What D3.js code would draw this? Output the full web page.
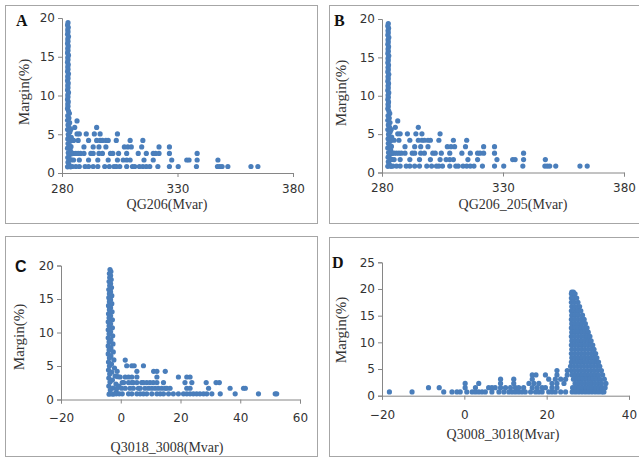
<!DOCTYPE html>
<html><head><meta charset="utf-8">
<script src="https://cdn.jsdelivr.net/npm/d3@7"></script>
<style>html,body{margin:0;padding:0;background:#fff;}svg{display:block;}</style>
</head><body>
<svg id="chart" width="639" height="459"></svg>
<script>
// ---------- DATA ----------
// Panels A and B: dense band near x≈282-284 plus scattered points (x in Mvar, y = Margin %)
const bandAB = [
[282.6,19.4],[282.4,19.1],[282.7,18.8],[282.5,18.5],[282.6,18.2],[282.4,17.9],[282.8,17.6],[282.5,17.3],
[282.6,17.0],[282.4,16.7],[282.7,16.4],[282.5,16.1],[282.6,15.8],[282.4,15.5],[282.8,15.2],[282.5,14.9],
[282.6,14.6],[282.4,14.3],[282.7,14.0],[282.5,13.7],[282.6,13.4],[282.4,13.1],[282.8,12.8],[282.5,12.5],
[282.6,12.2],[282.4,11.9],[282.7,11.6],[282.5,11.3],[282.6,11.0],[282.4,10.7],[282.8,10.4],[282.5,10.1],
[282.6,9.8],[282.4,9.5],[282.7,9.2],[282.5,8.9],[282.6,8.6],[282.4,8.3],[282.8,8.0],[283.2,7.7],
[282.5,7.4],[283.0,7.1],[282.4,6.8],[283.3,6.5],[282.6,6.2],[283.1,5.9],[282.4,5.6],[283.4,5.3],
[282.7,5.0],[283.0,4.7],[282.5,4.4],[283.5,4.1],[282.6,3.8],[283.2,3.5],[282.4,3.2],[283.6,2.9],
[282.7,2.6],[283.1,2.3],[282.5,2.0],[283.4,1.7],[282.6,1.4],[283.0,1.1],[282.4,0.8],[283.7,0.8],
[284.0,1.7],[284.2,2.5],[283.9,3.4],[284.0,4.6],[283.8,5.6]
];
const scatterAB = [
[284.5,0.84],[286,0.84],[287.5,0.84],[290,0.84],[291.5,0.84],[293.5,0.84],[295.5,0.84],[298.5,0.84],
[300.5,0.84],[302.5,0.84],[303.5,0.84],[305,0.84],[308,0.84],[310.5,0.84],[311.5,0.84],[313.5,0.84],
[315,0.84],[316.5,0.84],[318,0.84],[321.5,0.84],[326.5,0.84],[330.3,0.84],[338.2,0.84],[347.3,0.84],
[348.3,0.84],[349.3,0.84],[351.8,0.84],[361.8,0.84],[364.8,0.84],
[285,1.68],[287.5,1.68],[291.5,1.68],[295.5,1.68],[300,1.68],[304,1.68],[306.5,1.68],[308,1.68],
[309.5,1.68],[315.5,1.68],[319.5,1.68],[327.5,1.68],[334,1.68],[335,1.68],[338.5,1.68],[347.5,1.68],
[284,2.52],[285,2.52],[286,2.52],[287,2.52],[288,2.52],[289.5,2.52],[292.5,2.52],[293.5,2.52],
[296,2.52],[297.5,2.52],[301,2.52],[302,2.52],[304.5,2.52],[308,2.52],[313,2.52],[316.5,2.52],
[319.5,2.52],[320.5,2.52],[322,2.52],[326.5,2.52],[338.5,2.52],
[289.5,3.36],[293.5,3.36],[296,3.36],[299,3.36],[307,3.36],[308.5,3.36],[310,3.36],[314.5,3.36],
[322,3.36],[326.5,3.36],
[285,4.2],[287,4.2],[291.5,4.2],[295,4.2],[296.5,4.2],[297.5,4.2],[299,4.2],[300,4.2],[303.5,4.2],
[309.5,4.2],[315,4.2],
[286.5,5.04],[287.5,5.04],[290.5,5.04],[294,5.04],[296.5,5.04],[304,5.04],
[285.5,5.88],[295,5.88],
[286.5,6.72]
];
// Panel C: Q3018_3008
const bandC = [
[-3.6,19.4],[-3.3,19.1],[-3.8,18.8],[-3.4,18.5],[-3.7,18.2],[-3.2,17.9],[-3.9,17.6],[-3.4,17.3],
[-3.7,17.0],[-3.1,16.7],[-4.0,16.4],[-3.4,16.1],[-3.8,15.8],[-3.0,15.5],[-4.0,15.2],[-3.4,14.9],
[-3.8,14.6],[-3.0,14.3],[-4.1,14.0],[-3.4,13.7],[-3.8,13.4],[-2.9,13.1],[-4.1,12.8],[-3.4,12.5],
[-3.9,12.2],[-2.8,11.9],[-4.2,11.6],[-3.4,11.3],[-3.9,11.0],[-2.8,10.7],[-4.2,10.4],[-3.4,10.1],
[-3.9,9.8],[-2.7,9.5],[-4.2,9.2],[-3.3,8.9],[-3.9,8.6],[-2.6,8.3],[-4.2,8.0],[-3.3,7.7],
[-3.9,7.4],[-2.5,7.1],[-4.2,6.8],[-3.3,6.5],[-3.8,6.2],[-2.3,5.9],[-4.1,5.6],[-3.1,5.3],
[-3.8,5.0],[-2.1,4.7],[-4.1,4.4],[-3.0,4.1],[-3.7,3.8],[-1.9,3.5],[-4.0,3.2],[-2.8,2.9],
[-3.6,2.6],[-1.6,2.3],[-4.0,2.0],[-2.6,1.7],[-3.5,1.4],[-1.5,1.1],[-3.9,0.8],[-2.6,0.8],
[-1.0,3.4],[-0.6,2.0],[-1.2,4.2]
];
const scatterC = [
[-1.5,0.84],[-0.5,0.84],[0.5,0.84],[2.6,0.84],[3.7,0.84],[5.4,0.84],[6.5,0.84],[7.6,0.84],[8.7,0.84],
[10.4,0.84],[12.1,0.84],[13.2,0.84],[14.3,0.84],[16,0.84],[17.6,0.84],[19.3,0.84],[21,0.84],[22.1,0.84],
[23.2,0.84],[24.3,0.84],[25.4,0.84],[26.5,0.84],[27.7,0.84],[28.8,0.84],[30.5,0.84],[33.3,0.84],
[38.3,0.84],[46.1,0.84],[51.7,0.84],[52.2,0.84],
[-1.2,1.68],[0.3,1.68],[1.5,1.68],[3.1,1.68],[4.2,1.68],[5.9,1.68],[6.5,1.68],[8.1,1.68],[9.3,1.68],
[10.4,1.68],[11.5,1.68],[12.6,1.68],[13.7,1.68],[14.8,1.68],[15.4,1.68],[16.5,1.68],[22.1,1.68],
[23.2,1.68],[29.4,1.68],[36.6,1.68],[41.1,1.68],[41.7,1.68],
[0.5,2.52],[1,2.52],[2.6,2.52],[3.7,2.52],[4.2,2.52],[5.4,2.52],[7,2.52],[7.6,2.52],[8.7,2.52],
[9.8,2.52],[10.9,2.52],[12.1,2.52],[14.3,2.52],[21.5,2.52],[23.8,2.52],[28.6,2.52],[31.9,2.52],[33,2.52],
[-0.2,3.36],[1.5,3.36],[2.6,3.36],[3.7,3.36],[5.4,3.36],[12.1,3.36],[19.3,3.36],[22.1,3.36],[23.2,3.36],
[5.4,4.2],[11,4.2],[12.1,4.2],[14.9,4.2],
[2,5.04],[3.7,5.04],[4.5,5.04],[7.6,5.04],
[1.5,5.88]
];
// Panel D: Q3008_3018 — triangle of points plus scattered points to the left
const triangleD = [
[26.1,19.4],[26.5,19.4],
[26.0,19.1],[26.6,19.1],[26.9,19.1],
[26.0,18.3],[26.6,18.3],[27.3,18.3],
[26.0,17.5],[26.7,17.5],[27.6,17.5],
[26.1,16.7],[26.8,16.7],[27.5,16.7],[28.0,16.7],
[26.0,15.9],[26.7,15.9],[27.5,15.9],[28.3,15.9],
[26.1,15.1],[26.9,15.1],[27.7,15.1],[28.7,15.1],
[26.0,14.3],[26.8,14.3],[27.6,14.3],[28.4,14.3],[29.1,14.3],
[26.1,13.5],[26.9,13.5],[27.7,13.5],[28.5,13.5],[29.4,13.5],
[26.0,12.7],[26.8,12.7],[27.6,12.7],[28.4,12.7],[29.1,12.7],[29.8,12.7],
[26.1,11.9],[26.9,11.9],[27.7,11.9],[28.5,11.9],[29.3,11.9],[30.1,11.9],
[26.0,11.1],[26.8,11.1],[27.6,11.1],[28.4,11.1],[29.2,11.1],[29.9,11.1],[30.5,11.1],
[26.1,10.3],[26.9,10.3],[27.7,10.3],[28.5,10.3],[29.3,10.3],[30.1,10.3],[30.8,10.3],
[26.0,9.5],[26.8,9.5],[27.6,9.5],[28.4,9.5],[29.2,9.5],[30.0,9.5],[30.7,9.5],[31.2,9.5],
[26.1,8.7],[26.9,8.7],[27.7,8.7],[28.5,8.7],[29.3,8.7],[30.1,8.7],[30.9,8.7],[31.5,8.7],
[26.0,7.9],[26.8,7.9],[27.6,7.9],[28.4,7.9],[29.2,7.9],[30.0,7.9],[30.8,7.9],[31.5,7.9],[31.9,7.9],
[26.1,7.1],[26.9,7.1],[27.7,7.1],[28.5,7.1],[29.3,7.1],[30.1,7.1],[30.9,7.1],[31.6,7.1],[32.2,7.1],
[26.0,6.3],[26.8,6.3],[27.6,6.3],[28.4,6.3],[29.2,6.3],[30.0,6.3],[30.8,6.3],[31.6,6.3],[32.3,6.3],[32.6,6.3],
[25.8,5.5],[26.6,5.5],[27.4,5.5],[28.2,5.5],[29.0,5.5],[29.8,5.5],[30.6,5.5],[31.4,5.5],[32.2,5.5],[32.9,5.5],
[26.0,4.7],[26.8,4.7],[27.6,4.7],[28.4,4.7],[29.2,4.7],[30.0,4.7],[30.8,4.7],[31.6,4.7],[32.4,4.7],[33.3,4.7],
[26.2,3.9],[27.0,3.9],[27.8,3.9],[28.6,3.9],[29.4,3.9],[30.2,3.9],[31.0,3.9],[31.8,3.9],[32.6,3.9],[33.6,3.9],
[26.5,3.1],[27.3,3.1],[28.1,3.1],[28.9,3.1],[29.7,3.1],[30.5,3.1],[31.3,3.1],[32.1,3.1],[32.9,3.1],[34.0,3.1],
[26.9,2.3],[27.7,2.3],[28.5,2.3],[29.3,2.3],[30.1,2.3],[30.9,2.3],[31.7,2.3],[32.5,2.3],[33.3,2.3],[34.4,2.3],
[26.3,1.5],[27.1,1.5],[27.9,1.5],[28.7,1.5],[29.5,1.5],[30.3,1.5],[31.1,1.5],[31.9,1.5],[32.7,1.5],[33.5,1.5],[34.2,1.5],
[26.2,0.7],[27.0,0.7],[27.8,0.7],[28.6,0.7],[29.4,0.7],[30.2,0.7],[31.0,0.7],[31.8,0.7],[32.6,0.7],[33.4,0.7],[33.9,0.7]
];
const scatterD = [
[-18.2,0.7],[-12.7,0.7],[-5,0.7],[-3,0.7],[-1.8,0.7],[-1,0.7],[0.6,0.7],[1.9,0.7],[2.7,0.7],[3.5,0.7],
[4.3,0.7],[5.1,0.7],[6.7,0.7],[8.4,0.7],[9.6,0.7],[10.8,0.7],[11.6,0.7],[12.4,0.7],[13.2,0.7],[14,0.7],
[14.8,0.7],[16.1,0.7],[17.3,0.7],[18.1,0.7],[18.9,0.7],[20.5,0.7],[21.3,0.7],[22.1,0.7],[23.4,0.7],[24.6,0.7],
[-8.7,1.5],[-6.1,1.5],[0.2,1.5],[2.7,1.5],[5.9,1.5],[6.7,1.5],[7.5,1.5],[8.8,1.5],[10,1.5],[11.2,1.5],
[12.4,1.5],[13.2,1.5],[14.4,1.5],[16.5,1.5],[17.7,1.5],[18.9,1.5],[19.7,1.5],[21.3,1.5],[22.5,1.5],
[0.2,2.3],[3.5,2.3],[8.8,2.3],[12,2.3],[15.7,2.3],[16.9,2.3],[18.1,2.3],[21.3,2.3],[22.5,2.3],[24.2,2.3],
[8.8,3.1],[12,3.1],[16.5,3.1],[20.5,3.1],[22.1,3.1],[23.4,3.1],[24.6,3.1],
[16.5,3.9],[17.4,3.9],[19.7,3.9],[22.5,3.9],[25,3.9],
[22.5,4.7],[25,4.7]
];
// Tick values and labels
const ticksXAB = [280, 330, 380];
const ticksYABC = [0, 5, 10, 15, 20];
const ticksXC = [-20, 0, 20, 40, 60];
const ticksXD = [-20, 0, 20, 40];
const ticksYD = [0, 5, 10, 15, 20, 25];
const panelLetters = ["A", "B", "C", "D"];
const xTitles = ["QG206(Mvar)", "QG206_205(Mvar)", "Q3018_3008(Mvar)", "Q3008_3018(Mvar)"];
const yTitle = "Margin(%)";

// ---------- LAYOUT ----------
const panels = [
  {letter:0, box:[5.5,5.5,312,218], xd:[280,380], xr:[62,293], yd:[0,20], yr:[173,18], pad:7,
   xt:ticksXAB, yt:ticksYABC, data:[bandAB, scatterAB], title:[167,209], ytitle:[24,92], lp:[16,26], lfont:"Liberation Serif"},
  {letter:1, box:[329.5,5.5,320,218], xd:[280,380], xr:[382,624], yd:[0,20], yr:[172.5,19], pad:7,
   xt:ticksXAB, yt:ticksYABC, data:[bandAB, scatterAB], title:[513,209], ytitle:[341,93], lp:[334,26], lfont:"Liberation Serif"},
  {letter:2, box:[5.5,236.5,312,220], xd:[-20,60], xr:[61,300], yd:[0,20], yr:[399.5,265.5], pad:10,
   xt:ticksXC, yt:ticksYABC, data:[bandC, scatterC], title:[167,452], ytitle:[19,337], lp:[15,272], lfont:"Liberation Sans"},
  {letter:3, box:[329.5,237.5,320,219], xd:[-20,40], xr:[382,629], yd:[0,25], yr:[395.7,262.3], pad:11,
   xt:ticksXD, yt:ticksYD, data:[triangleD, scatterD], title:[503,439], ytitle:[341,330], lp:[332,268], lfont:"Liberation Serif"}
];

const svg = d3.select("#chart");
const dotColor = "#4a7ebb";

panels.forEach(p => {
  const g = svg.append("g");
  g.append("rect").attr("x",p.box[0]).attr("y",p.box[1]).attr("width",p.box[2]).attr("height",p.box[3])
    .attr("fill","#fff").attr("stroke","#a6a6a6").attr("stroke-width",1);
  const x = d3.scaleLinear().domain(p.xd).range(p.xr);
  const y = d3.scaleLinear().domain(p.yd).range(p.yr);

  const xa = g.append("g").attr("transform",`translate(0,${p.yr[0]})`)
    .call(d3.axisBottom(x).tickValues(p.xt).tickSize(4).tickPadding(p.pad).tickSizeOuter(4));
  const ya = g.append("g").attr("transform",`translate(${p.xr[0]},0)`)
    .call(d3.axisLeft(y).tickValues(p.yt).tickSize(4).tickPadding(3).tickSizeOuter(4));
  [xa, ya].forEach(a => {
    a.selectAll("path,line").attr("stroke","#868686");
    a.selectAll("text").attr("fill","#333").style("font-family","DejaVu Sans").style("font-size","12px");
  });

  const pts = p.data[0].concat(p.data[1]);
  g.append("g").selectAll("circle").data(pts).join("circle")
    .attr("cx", d => x(d[0])).attr("cy", d => y(d[1])).attr("r", 2.6)
    .attr("fill", dotColor);

  g.append("text").attr("x",p.title[0]).attr("y",p.title[1]).attr("text-anchor","middle")
    .style("font-family","Liberation Serif").style("font-size","14px").attr("fill","#333")
    .text(xTitles[p.letter]);
  g.append("text").attr("transform",`translate(${p.ytitle[0]},${p.ytitle[1]}) rotate(-90)`)
    .attr("text-anchor","middle").attr("dominant-baseline","central")
    .style("font-family","Liberation Serif").style("font-size","15px").attr("fill","#333")
    .text(yTitle);
  g.append("text").attr("x",p.lp[0]).attr("y",p.lp[1])
    .style("font-family",p.lfont).style("font-weight","bold").style("font-size","16px").attr("fill","#111")
    .text(panelLetters[p.letter]);
});
</script>
</body></html>
